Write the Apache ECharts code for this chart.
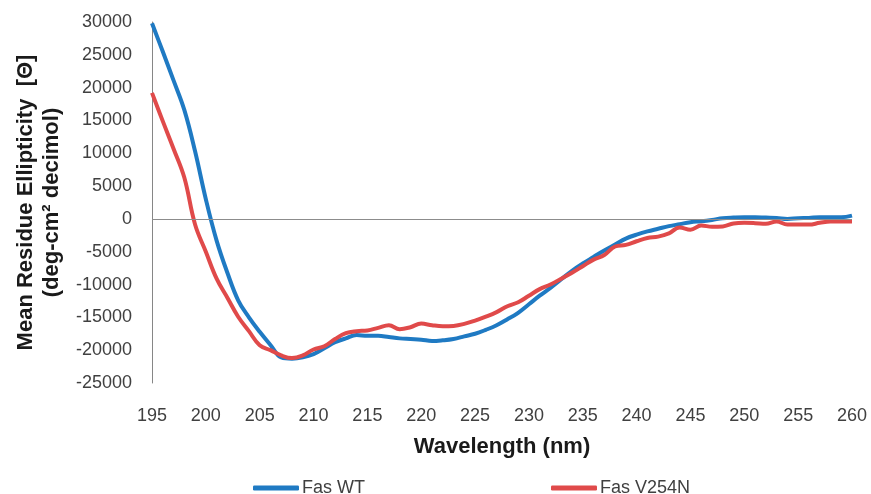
<!DOCTYPE html>
<html>
<head>
<meta charset="utf-8">
<script src="https://cdn.jsdelivr.net/npm/echarts@6/dist/echarts.min.js"></script>
<style>
html,body{margin:0;padding:0;background:#fff;}
#chart{width:871px;height:494px;}
</style>
</head>
<body>
<div id="chart"></div>
<script>
const wavelengths = [195,196,197,198,199,200,201,202,203,204,205,206,207,208,209,210,211,212,213,214,215,216,217,218,219,220,221,222,223,224,225,226,227,228,229,230,231,232,233,234,235,236,237,238,239,240,241,242,243,244,245,246,247,248,249,250,251,252,253,254,255,256,257,258,259,260];
const fasWT = [29800,25500,21100,16600,10300,3000,-3300,-8200,-12400,-15000,-17200,-19200,-21100,-21300,-21100,-20600,-19700,-18800,-18200,-17700,-17800,-17800,-18000,-18200,-18300,-18400,-18600,-18500,-18300,-17900,-17500,-16900,-16200,-15300,-14300,-13000,-11700,-10500,-9200,-7900,-6800,-5800,-4800,-3900,-3000,-2400,-1900,-1500,-1100,-800,-500,-350,-150,100,200,250,250,200,150,0,100,150,250,250,250,500];
const fasV254N = [19200,14900,10700,6300,-850,-5000,-9100,-12000,-14900,-17100,-19250,-20000,-20800,-21200,-20800,-19900,-19400,-18300,-17400,-17100,-17000,-16600,-16200,-16800,-16500,-15950,-16200,-16350,-16300,-16000,-15500,-14900,-14200,-13300,-12700,-11700,-10700,-10000,-9100,-8200,-7200,-6200,-5500,-4200,-3950,-3400,-2900,-2700,-2200,-1300,-1650,-1000,-1200,-1150,-700,-600,-650,-750,-400,-850,-850,-870,-600,-400,-400,-410];
const seriesNames = ['Fas WT','Fas V254N'];
const xTitle = 'Wavelength (nm)';
const yTitle = 'Mean Residue Ellipticity  [\u0398]\n(deg-cm\u00B2 decimol)';

const font = 'Liberation Sans, Arial, sans-serif';
const chart = echarts.init(document.getElementById('chart'), null, {renderer:'canvas', width:871, height:494});
const pairs = arr => wavelengths.map((w,i)=>[w, arr[i]]);
chart.setOption({
  animation:false,
  backgroundColor:'#ffffff',
  grid:{left:152,right:19,top:22,bottom:111,containLabel:false},
  legend:{
    data:seriesNames,
    left:248, top:474,
    icon:'roundRect', itemWidth:46, itemHeight:5, itemGap:186,
    textStyle:{fontFamily:font,fontSize:18,color:'#404040',padding:[0,0,0,-2]}
  },
  xAxis:{
    type:'value', min:195, max:260, interval:5,
    axisLine:{show:false}, axisTick:{show:false}, splitLine:{show:false},
    axisLabel:{fontFamily:font,fontSize:18,color:'#404040',margin:24},
    name:xTitle, nameLocation:'middle', nameGap:53,
    nameTextStyle:{fontFamily:font,fontSize:22,fontWeight:'bold',color:'#1a1a1a'}
  },
  yAxis:{
    type:'value', min:-25000, max:30000, interval:5000,
    axisLine:{show:true,lineStyle:{color:'#868686',width:1}},
    axisTick:{show:false}, splitLine:{show:false},
    axisLabel:{fontFamily:font,fontSize:18,color:'#404040',margin:20,formatter:v=>String(v)},
    name:yTitle, nameLocation:'middle', nameRotate:90, nameGap:86,
    nameTextStyle:{fontFamily:font,fontSize:22,fontWeight:'bold',color:'#1a1a1a',lineHeight:26,align:'center'}
  },
  series:[
    {name:seriesNames[0], type:'line', data:pairs(fasWT), smooth:0.4, showSymbol:false, symbol:'none',
     lineStyle:{color:'#1f7ac3',width:4}, itemStyle:{color:'#1f7ac3'},
     markLine:{silent:true,symbol:'none',label:{show:false},lineStyle:{color:'#8c8c8c',width:1,type:'solid'},data:[{yAxis:0}]}},
    {name:seriesNames[1], type:'line', data:pairs(fasV254N), smooth:0.4, showSymbol:false, symbol:'none',
     lineStyle:{color:'#e04a4a',width:4}, itemStyle:{color:'#e04a4a'}}
  ]
});
</script>
</body>
</html>
